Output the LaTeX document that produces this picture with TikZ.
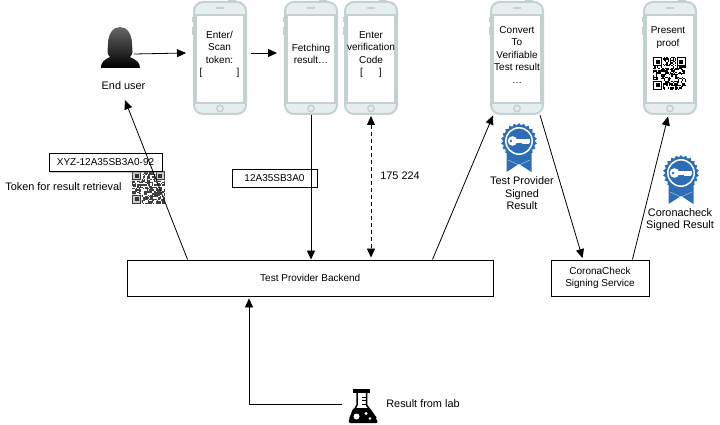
\documentclass[tikz,border=0pt]{standalone}
\usepackage{fontspec}
\setmainfont{Liberation Sans}
\usetikzlibrary{arrows.meta,shadows,shapes.geometric}
\definecolor{phoneline}{HTML}{C4D1D1}
\definecolor{phonefill}{HTML}{E6EEEF}
\definecolor{badgeblue}{HTML}{2D6DB5}

\newcommand{\phonebody}[2]{%
\node[phone] (#1) at (#2,58) {};
\begin{scope}[shift={(#2,0)}]
\draw[phoneline,line width=1.3pt,fill=white] (-24,15) rectangle (24,103);
\draw[phoneline,line width=1.5pt,fill=phonefill] (0,108.5) circle[radius=3.2];
\draw[phoneline,line width=1.5pt,line cap=round] (-3.5,8) -- (3.5,8);
\draw[phoneline,line width=1.2pt] (-27.6,17) -- (-27.6,22) (-27.6,27) -- (-27.6,35);
\draw[phoneline,line width=1.2pt] (8,0.4) -- (16,0.4);
\end{scope}}

\newcommand{\qrblock}[5]{%
\begin{scope}[shift={(#1,#2)},opacity=#4]
\pgfmathsetseed{#3}
\foreach \i in {0,...,24}
  \foreach \j in {0,...,24}{
    \pgfmathparse{rnd}
    \ifdim\pgfmathresult pt<#5pt
      \fill (\i*1.32,\j*1.32) rectangle ++(1.32,1.32);
    \fi}
\foreach \i/\j in {0/0,18/0,0/18}{
  \fill[white] (\i*1.32-0.3,\j*1.32-0.3) rectangle ++(9.8,9.8);
  \fill (\i*1.32,\j*1.32) rectangle ++(9.24,9.24);
  \fill[white] (\i*1.32+1.32,\j*1.32+1.32) rectangle ++(6.6,6.6);
  \fill (\i*1.32+2.64,\j*1.32+2.64) rectangle ++(3.96,3.96);}
\end{scope}}

\newcommand{\badge}[3]{%
\fill[badgeblue] (#2-12.5,#3+8) -- (#2-12.5,#3+31) -- (#2,#3+23) -- (#2+12.5,#3+31) -- (#2+12.5,#3+8) -- cycle;
\draw[white,line width=0.4pt,opacity=.7] (#2-11,#3+19) -- (#2,#3+24) -- (#2+11,#3+19);
\node[badgestar] (#1) at (#2,#3) {};
\begin{scope}[shift={(#2,#3)}]
\fill[badgeblue] (0,0) circle[radius=15.5];
\draw[white,line width=1.5pt] (0,0) circle[radius=13.2];
\fill[white] (-6.5,0) circle[radius=4.8];
\fill[white] (-4,-1.8) rectangle (11,1.8);
\fill[white] (3,1) rectangle (10,2.8);
\fill[badgeblue] (-8,0) circle[radius=1.3];
\end{scope}}

\begin{document}
\begin{tikzpicture}[x=1pt,y=-1pt,
    phone/.style={draw=phoneline,fill=phonefill,line width=2pt,rounded corners=9pt,minimum width=52,minimum height=112,inner sep=0pt},
    phonetext/.style={font=\fontsize{10}{12.5}\selectfont,align=center,inner sep=0pt},
    caption/.style={font=\fontsize{10.9}{12.6}\selectfont,align=center,inner sep=0pt},
    serverbox/.style={draw,fill=white,line width=0.9pt,font=\fontsize{10}{12.4}\selectfont,align=center,inner sep=0pt,drop shadow={shadow xshift=0.6pt,shadow yshift=-1.4pt,opacity=.45}},
    badgestar/.style={star,star points=22,star point ratio=1.14,minimum size=36,inner sep=0pt,fill=badgeblue},
    iconbox/.style={inner sep=0pt},
    link/.style={line width=0.8pt,-{Triangle[length=9pt,width=8pt]}}]
\useasboundingbox (0,0) rectangle (720,425);

% user
\path[top color=black!60,bottom color=black]
  (101,68) .. controls (101,62) and (104,60) .. (110,57)
  .. controls (106,54) and (108,49) .. (108,44)
  .. controls (108,34) and (113,27) .. (120,27)
  .. controls (127,27) and (132,34) .. (132,44)
  .. controls (132,49) and (134,54) .. (130,57)
  .. controls (136,60) and (140,62) .. (140,68) -- cycle;
\node[iconbox,minimum width=39,minimum height=41] (user) at (120.5,47.5) {};
\node[caption,minimum height=28] (userlabel) at (123.5,86) {End user};

% phones
\phonebody{phoneA}{220}
\phonebody{phoneB}{311}
\phonebody{phoneC}{371}
\phonebody{phoneD}{517}
\phonebody{phoneE}{670}
\node[phonetext] (textA) at (219.5,54.5) {Enter/\\Scan\\token:\\{[}\hspace{34pt}{]}};
\node[phonetext] (textB) at (311,54) {Fetching\\result\dots};
\node[phonetext] (textC) at (371,54.5) {Enter\\verification\\Code\\{[}\hspace{16pt}{]}};
\node[phonetext] (textD) at (517,55) {Convert\\To\\Verifiable\\Test result\\\dots};
\node[phonetext] (textE) at (668,37.5) {Present\\proof};
\qrblock{653}{57}{41}{1}{0.5}

% boxes
\node[serverbox,minimum width=365.5,minimum height=36] (backend) at (310.25,278) {Test Provider Backend};
\node[serverbox,minimum width=98,minimum height=36] (signing) at (600,278) {CoronaCheck\\Signing Service};
\qrblock{132}{171}{17}{.75}{0.62}
\node[serverbox,minimum width=113,minimum height=18.5] (token) at (105.5,162.5) {XYZ-12A35SB3A0-92};
\node[serverbox,minimum width=85,minimum height=18] (code) at (274.5,178) {12A35SB3A0};
\node[caption] (tokenlabel) at (63.5,187) {Token for result retrieval};
\node[caption] (codelabel) at (400,176) {175 224};

% badges
\badge{badgeA}{519}{141}
\badge{badgeB}{681}{173}
\node[caption] (badgeAlabel) at (522,193.5) {Test Provider\\Signed\\Result};
\node[caption] (badgeBlabel) at (680,219.5) {Coronacheck\\Signed Result};

% flask
\node[iconbox,minimum width=30,minimum height=36] (flask) at (363,404) {};
\fill (353,389) rectangle (370,393);
\draw[line width=1.5pt] (357,392) -- (357,405) -- (350,418);
\draw[line width=1.5pt] (366.5,392) -- (366.5,405) -- (376,418);
\draw[line width=0.9pt] (362,397) -- (366,397) (362,400.5) -- (366,400.5) (362,404) -- (366,404);
\fill[rounded corners=2.5pt] (353,408) -- (370,408) -- (378.5,423) -- (348,423) -- cycle;
\fill[white] (356.5,416.5) circle[radius=3];
\fill[white] (366,413.5) circle[radius=1.6];
\fill[white] (370,418.5) circle[radius=1.4];
\node[caption] (flasklabel) at (423,404) {Result from lab};

% connectors
\draw[link] ([xshift=-6pt,yshift=-6.5pt]user.east) -- ([xshift=-7pt,yshift=5pt]phoneA.west);
\draw[link] ([xshift=4pt,yshift=5pt]phoneA.east) -- ([xshift=-7pt,yshift=5pt]phoneB.west);
\draw[link] (phoneB.south) -- (phoneB.south |- backend.north);
\draw[link,{Triangle[length=9pt,width=8pt]}-{Triangle[length=9pt,width=8pt]},dash pattern=on 4pt off 3pt,shorten <=1pt,shorten >=2pt] (phoneC.south) -- (phoneC.south |- backend.north);
\draw[link] ([xshift=60.5pt]backend.north west) -- ([xshift=1.5pt]userlabel.south);
\draw[link] ([xshift=-61pt]backend.north east) -- ([xshift=3pt,yshift=-0.5pt]phoneD.south west);
\draw[link,shorten >=1.5pt] ([xshift=-4pt]phoneD.south east) -- ([xshift=-17pt]signing.north);
\draw[link] ([xshift=-17pt]signing.north east) -- ([xshift=-2pt,yshift=-1.5pt]phoneE.south);
\draw[link,shorten <=6pt,shorten >=2pt] (flask.west) -| ([xshift=-61.25pt]backend.south);
\end{tikzpicture}
\end{document}
